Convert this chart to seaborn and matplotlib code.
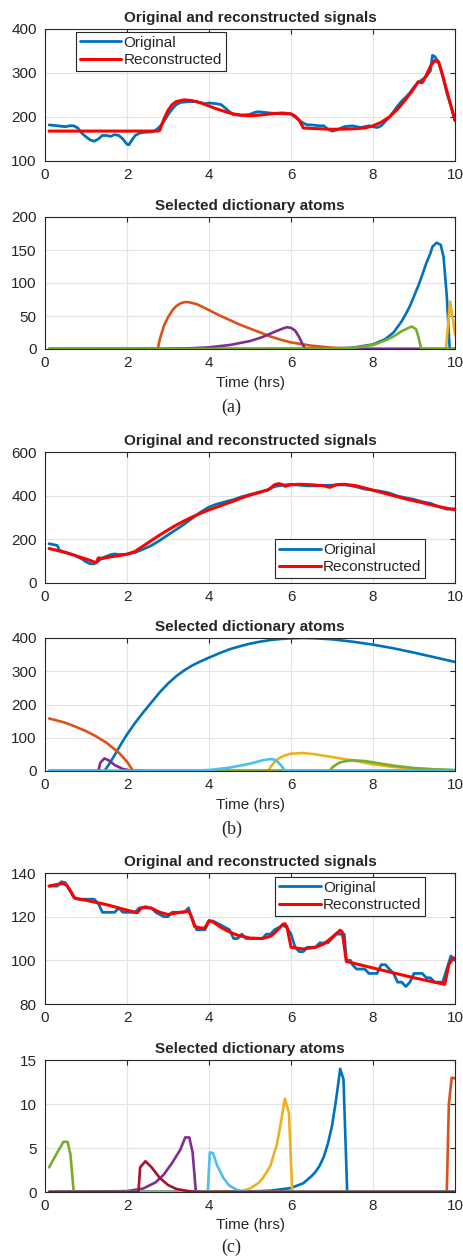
import matplotlib
matplotlib.use("Agg")
import matplotlib.pyplot as plt
import seaborn as sns

# colores estilo MATLAB
c_blue = "#0072BD"
c_orange = "#D95319"
c_yellow = "#EDB120"
c_purple = "#7E2F8E"
c_green = "#77AC30"
c_lblue = "#4DBEEE"
c_dred = "#A2142F"

# ---------------- (a) ----------------
a_orig_t = [0.1, 0.3, 0.5, 0.6, 0.7, 0.8, 0.9, 1.0, 1.1, 1.2, 1.3, 1.4, 1.5, 1.6, 1.7, 1.8, 1.9, 2.0, 2.05,
            2.1, 2.2, 2.3, 2.4, 2.6, 2.7, 2.8, 2.9, 3.0, 3.1, 3.2, 3.3, 3.5, 3.7, 3.9, 4.0, 4.2, 4.3, 4.4,
            4.5, 4.6, 4.8, 5.0, 5.1, 5.2, 5.4, 5.6, 5.8, 6.0, 6.1, 6.2, 6.3, 6.4, 6.5, 6.7, 6.8, 6.9, 7.0,
            7.1, 7.2, 7.3, 7.5, 7.6, 7.7, 7.8, 7.9, 8.0, 8.1, 8.2, 8.3, 8.4, 8.5, 8.6, 8.7, 8.8, 8.9, 9.0,
            9.1, 9.2, 9.3, 9.4, 9.45, 9.5, 9.6, 9.7, 9.8, 9.9, 10.0]
a_orig_v = [182, 180, 178, 180, 180, 175, 163, 155, 148, 145, 150, 158, 158, 156, 160, 158, 150, 138, 137,
            145, 158, 163, 165, 166, 170, 178, 190, 205, 218, 228, 233, 235, 235, 230, 232, 230, 228, 220,
            212, 205, 204, 206, 210, 212, 210, 208, 207, 207, 200, 192, 186, 182, 182, 180, 180, 172, 168,
            170, 174, 178, 180, 178, 176, 178, 180, 178, 176, 180, 190, 200, 212, 225, 236, 245, 255, 268,
            278, 285, 292, 305, 340, 338, 325, 295, 255, 225, 192]
a_rec_t = [0.1, 2.75, 2.8, 2.9, 3.0, 3.1, 3.2, 3.4, 3.6, 3.8, 4.0, 4.2, 4.4, 4.6, 4.8, 5.0, 5.2, 5.4, 5.6,
           5.8, 6.0, 6.1, 6.2, 6.3, 6.5, 7.0, 7.5, 7.8, 8.0, 8.2, 8.4, 8.6, 8.8, 9.0, 9.1, 9.2, 9.3, 9.4,
           9.5, 9.6, 9.65, 9.8, 10.0]
a_rec_v = [168, 168, 170, 195, 215, 228, 235, 239, 237, 232, 225, 218, 212, 207, 204, 203, 204, 206, 208,
           209, 207, 202, 193, 175, 174, 172, 173, 175, 180, 188, 200, 218, 240, 265, 280, 278, 295, 315,
           328, 325, 310, 260, 192]

a_atoms = [
    (c_blue, [0.1, 7.0, 7.5, 8.0, 8.3, 8.5, 8.7, 8.8, 8.9, 9.0, 9.1, 9.2, 9.3, 9.4, 9.45, 9.55, 9.65, 9.72,
              9.8, 9.87, 10.0],
             [0, 0.5, 2, 7, 15, 25, 42, 53, 65, 80, 95, 112, 130, 145, 155, 161, 158, 140, 80, 0, 0]),
    (c_orange, [0.1, 2.75, 2.8, 2.9, 3.0, 3.1, 3.2, 3.3, 3.4, 3.5, 3.7, 4.0, 4.25, 4.5, 4.75, 5.0, 5.25,
                5.5, 5.75, 6.0, 6.5, 7.0, 7.5, 8.0, 10.0],
               [0, 0, 15, 35, 48, 58, 65, 69, 71, 71, 68, 59, 51, 44, 37, 31, 25, 19, 14, 10, 5, 2, 1, 0.3,
                0]),
    (c_yellow, [0.1, 9.78, 9.88, 9.95, 10.0], [0, 0, 72, 45, 22]),
    (c_purple, [0.1, 3.0, 3.5, 4.0, 4.5, 5.0, 5.3, 5.6, 5.8, 5.9, 6.0, 6.1, 6.2, 6.3, 6.35, 10.0],
               [0, 0.3, 1, 2.5, 6, 12, 18, 26, 31, 33, 32, 28, 18, 5, 0, 0]),
    (c_green, [0.1, 7.0, 7.5, 8.0, 8.3, 8.5, 8.7, 8.9, 8.95, 9.05, 9.1, 9.18, 10.0],
              [0, 0.3, 1.5, 6, 13, 19, 27, 33, 34, 30, 20, 0, 0]),
]

# ---------------- (b) ----------------
b_orig_t = [0.1, 0.3, 0.35, 0.5, 0.7, 0.9, 1.0, 1.1, 1.2, 1.3, 1.4, 1.5, 1.6, 1.7, 1.8, 2.0, 2.2, 2.4, 2.6,
            2.8, 3.0, 3.2, 3.4, 3.6, 3.8, 4.0, 4.2, 4.4, 4.6, 4.8, 5.0, 5.2, 5.4, 5.6, 5.8, 6.0, 6.2, 6.4,
            6.6, 6.8, 7.0, 7.2, 7.4, 7.6, 7.8, 8.0, 8.2, 8.4, 8.6, 8.8, 9.0, 9.2, 9.4, 9.6, 9.8, 10.0]
b_orig_v = [180, 172, 150, 140, 128, 110, 97, 88, 88, 100, 115, 122, 130, 133, 130, 132, 140, 155, 172,
            195, 220, 245, 270, 298, 325, 348, 362, 372, 382, 395, 405, 415, 425, 442, 448, 452, 448, 445,
            445, 447, 448, 450, 448, 440, 430, 425, 420, 412, 398, 390, 383, 372, 365, 350, 338, 340]
b_rec_t = [0.1, 0.5, 1.0, 1.25, 1.3, 1.4, 1.6, 1.8, 2.0, 2.2, 2.4, 2.6, 2.8, 3.0, 3.2, 3.4, 3.6, 3.8, 4.0,
           4.2, 4.4, 4.6, 4.8, 5.0, 5.2, 5.45, 5.6, 5.7, 5.8, 5.85, 6.0, 6.2, 6.5, 6.8, 6.95, 7.1, 7.3, 7.6,
           8.0, 8.4, 8.8, 9.2, 9.6, 10.0]
b_rec_v = [158, 140, 110, 93, 115, 112, 120, 125, 132, 145, 170, 195, 220, 243, 265, 285, 303, 320, 335,
           348, 362, 375, 390, 403, 413, 427, 450, 455, 450, 443, 450, 452, 450, 445, 438, 450, 452, 445,
           425, 405, 385, 368, 350, 335]

b_atoms = [
    (c_blue, [0.1, 1.45, 1.55, 1.7, 1.85, 2.0, 2.2, 2.4, 2.6, 2.8, 3.0, 3.2, 3.4, 3.6, 3.8, 4.0, 4.25, 4.5,
              4.75, 5.0, 5.25, 5.5, 5.75, 6.0, 6.3, 6.6, 7.0, 7.5, 8.0, 8.5, 9.0, 9.5, 10.0],
             [0, 0, 18, 48, 80, 110, 145, 177, 207, 237, 263, 285, 303, 318, 330, 341, 354, 366, 375, 383,
              389, 394, 397, 399, 400, 399, 396, 389, 380, 369, 356, 342, 328]),
    (c_orange, [0.1, 0.5, 0.75, 1.0, 1.25, 1.5, 1.65, 1.8, 1.9, 2.0, 2.15, 10.0],
               [158, 145, 133, 120, 104, 85, 70, 55, 42, 28, 0, 0]),
    (c_yellow, [0.1, 5.45, 5.5, 5.6, 5.7, 5.85, 6.0, 6.3, 6.6, 7.0, 7.5, 8.0, 8.5, 9.0, 9.5, 10.0],
               [0, 0, 12, 27, 38, 47, 52, 54, 50, 42, 32, 20, 12, 7, 4, 2]),
    (c_purple, [0.1, 1.3, 1.35, 1.45, 1.55, 1.7, 1.9, 2.1, 2.5, 10.0],
               [0, 0, 25, 38, 32, 18, 6, 1, 0, 0]),
    (c_green, [0.1, 6.95, 7.0, 7.1, 7.2, 7.35, 7.5, 7.8, 8.0, 8.5, 9.0, 9.5, 10.0],
              [0, 0, 10, 19, 26, 30, 32, 30, 26, 16, 9, 5, 3]),
    (c_lblue, [0.1, 3.5, 4.0, 4.5, 5.0, 5.3, 5.5, 5.6, 5.7, 5.8, 5.85, 10.0],
              [0, 0.5, 3, 10, 22, 32, 36, 34, 25, 10, 0, 0]),
]

# ---------------- (c) ----------------
c_orig_t = [0.1, 0.3, 0.4, 0.5, 0.6, 0.7, 0.8, 1.2, 1.3, 1.4, 1.7, 1.8, 1.9, 2.2, 2.3, 2.6, 2.7, 2.9, 3.0,
            3.1, 3.4, 3.5, 3.55, 3.7, 3.9, 4.0, 4.1, 4.3, 4.5, 4.6, 4.7, 4.8, 4.9, 5.3, 5.4, 5.5, 5.6, 5.8,
            5.9, 6.0, 6.1, 6.2, 6.3, 6.4, 6.6, 6.7, 6.9, 7.0, 7.1, 7.3, 7.35, 7.45, 7.5, 7.6, 7.8, 7.9,
            8.1, 8.2, 8.3, 8.4, 8.5, 8.6, 8.7, 8.8, 8.9, 9.0, 9.2, 9.3, 9.4, 9.5, 9.7, 9.8, 9.9, 10.0]
c_orig_v = [134, 134, 136, 135.5, 132, 129, 128, 128, 126, 122, 122, 124, 122, 122, 124, 124, 122, 120,
            120, 122, 122, 124, 121, 114, 114, 118, 118, 116, 114, 110, 110, 112, 110, 110, 112, 112, 114,
            116, 115, 112, 106, 104, 104, 106, 106, 108, 108, 110, 112, 112, 100, 100, 98, 96, 96, 94, 94,
            98, 98, 96, 94, 90, 90, 88, 90, 94, 94, 92, 92, 90, 90, 96, 102, 100]
c_rec_t = [0.1, 0.3, 0.45, 0.55, 0.65, 0.72, 1.0, 1.5, 2.0, 2.25, 2.35, 2.45, 2.6, 2.8, 3.0, 3.3, 3.5, 3.55,
           3.65, 3.8, 3.9, 4.0, 4.1, 4.3, 4.5, 4.7, 5.0, 5.3, 5.5, 5.6, 5.7, 5.8, 5.85, 5.9, 6.0, 6.3, 6.6,
           6.8, 7.0, 7.2, 7.25, 7.35, 8.0, 9.0, 9.75, 9.85, 9.95, 10.0]
c_rec_v = [134, 134.8, 135.2, 134, 131, 128.5, 127.5, 125.5, 123, 121.8, 124, 124.5, 123.8, 122, 121, 122,
           122.5, 121, 115.5, 114.8, 114.8, 118.2, 117.5, 115, 113, 111.5, 110.2, 110, 111, 112.5, 114.5,
           116.5, 116.8, 115.5, 106, 105.2, 106, 107.5, 110.5, 113.8, 113, 99.5, 96.5, 92, 89, 98, 101, 101]

c_atoms = [
    (c_blue, [0.1, 5.0, 5.5, 6.0, 6.3, 6.5, 6.6, 6.7, 6.8, 6.9, 7.0, 7.05, 7.1, 7.2, 7.28, 7.37, 10.0],
             [0, 0.05, 0.15, 0.45, 1.0, 1.8, 2.3, 3.0, 4.0, 5.5, 7.5, 9.0, 10.5, 14.0, 12.8, 0, 0]),
    (c_orange, [0.1, 9.8, 9.85, 9.92, 10.0], [0, 0, 10, 13, 12.9]),
    (c_yellow, [0.1, 4.5, 4.8, 5.0, 5.2, 5.3, 5.4, 5.5, 5.55, 5.65, 5.7, 5.75, 5.85, 5.95, 6.03, 10.0],
               [0, 0, 0.1, 0.4, 1.0, 1.5, 2.2, 3.0, 3.8, 5.3, 6.5, 7.8, 10.6, 9.0, 0, 0]),
    (c_purple, [0.1, 2.0, 2.4, 2.7, 2.9, 3.1, 3.3, 3.42, 3.52, 3.6, 3.68, 10.0],
               [0, 0.1, 0.4, 1.1, 2, 3.3, 4.8, 6.2, 6.2, 4.5, 0, 0]),
    (c_green, [0.1, 0.3, 0.45, 0.55, 0.62, 0.7, 10.0], [2.8, 4.5, 5.7, 5.7, 4.3, 0, 0]),
    (c_lblue, [0.1, 3.97, 4.02, 4.1, 4.2, 4.35, 4.5, 4.7, 5.0, 10.0],
              [0, 0, 4.5, 4.4, 3.0, 1.6, 0.7, 0.2, 0, 0]),
    (c_dred, [0.1, 2.28, 2.32, 2.45, 2.6, 2.8, 3.0, 3.2, 3.5, 3.7, 10.0],
             [0, 0, 2.8, 3.5, 2.8, 1.6, 0.8, 0.35, 0.1, 0, 0]),
]

y_sig = [(100, 400, [100, 200, 300, 400]), (0, 600, [0, 200, 400, 600]), (80, 140, [80, 100, 120, 140])]
y_atm = [(0, 200, [0, 50, 100, 150, 200]), (0, 400, [0, 100, 200, 300, 400]), (0, 15, [0, 5, 10, 15])]

sns.set_style("whitegrid")
plt.rcParams["font.family"] = ["Liberation Sans", "DejaVu Sans"]

W, H = 463, 1256
fig = plt.figure(figsize=(W / 100, H / 100), dpi=100)

# posiciones en píxeles (arriba, abajo) de cada eje
pos = [(29, 161), (217, 349), (452, 583), (638, 771), (873, 1004), (1060, 1192)]
left, right = 45, 455


def make_ax(top, bottom):
    ax = fig.add_axes([left / W, 1 - bottom / H, (right - left) / W, (bottom - top) / H])
    return ax


def style(ax, ylim):
    lo, hi, ticks = ylim
    ax.set_xlim(0, 10)
    ax.set_ylim(lo, hi)
    ax.set_xticks([0, 2, 4, 6, 8, 10])
    ax.set_yticks(ticks)
    ax.grid(True, color="#e3e3e3", lw=0.8)
    for s in ax.spines.values():
        s.set_color("#262626")
        s.set_linewidth(0.8)
    ax.tick_params(direction="in", length=3.5, width=0.8, top=True, right=True,
                   labelsize=11, colors="#262626")
    ax.tick_params(axis="x", pad=5)
    ax.tick_params(axis="y", pad=6)
    ax.set_xlabel("")
    ax.set_ylabel("")


signals = [(a_orig_t, a_orig_v, a_rec_t, a_rec_v), (b_orig_t, b_orig_v, b_rec_t, b_rec_v),
           (c_orig_t, c_orig_v, c_rec_t, c_rec_v)]
atoms = [a_atoms, b_atoms, c_atoms]
legend_pos = [("upper left", ((76 - 45) / 410, 1 - 3 / 132)),
              ("lower right", ((425 - 45) / 410, 5 / 131)),
              ("upper right", ((425 - 45) / 410, 1 - 4 / 131))]
captions = ["(a)", "(b)", "(c)"]
cap_y = [407, 829, 1247]

for i in range(3):
    ot, ov, rt, rv = signals[i]
    ax1 = make_ax(*pos[2 * i])
    sns.lineplot(x=ot, y=ov, ax=ax1, color=c_blue, lw=2.0, label="Original")
    sns.lineplot(x=rt, y=rv, ax=ax1, color="#FF0000", lw=2.2, label="Reconstructed")
    style(ax1, y_sig[i])
    ax1.set_title("Original and reconstructed signals", fontsize=11, fontweight="bold", pad=5)
    loc, anchor = legend_pos[i]
    leg = ax1.legend(loc=loc, bbox_to_anchor=anchor, fontsize=11, frameon=True, fancybox=False,
                     edgecolor="#262626", framealpha=1, handlelength=2.7, handletextpad=0.15,
                     borderpad=0.25, labelspacing=0.2, borderaxespad=0)
    leg.get_frame().set_linewidth(0.8)

    ax2 = make_ax(*pos[2 * i + 1])
    for col, t, v in atoms[i]:
        sns.lineplot(x=t, y=v, ax=ax2, color=col, lw=1.9)
    style(ax2, y_atm[i])
    ax2.set_title("Selected dictionary atoms", fontsize=11, fontweight="bold", pad=5)
    ax2.set_xlabel("Time (hrs)", fontsize=11, color="#262626", labelpad=4)
    fig.text(0.5, 1 - cap_y[i] / H, captions[i], ha="center", va="center", fontsize=13,
             family=["Liberation Serif", "DejaVu Serif"])

fig.savefig("out.png", dpi=100)
